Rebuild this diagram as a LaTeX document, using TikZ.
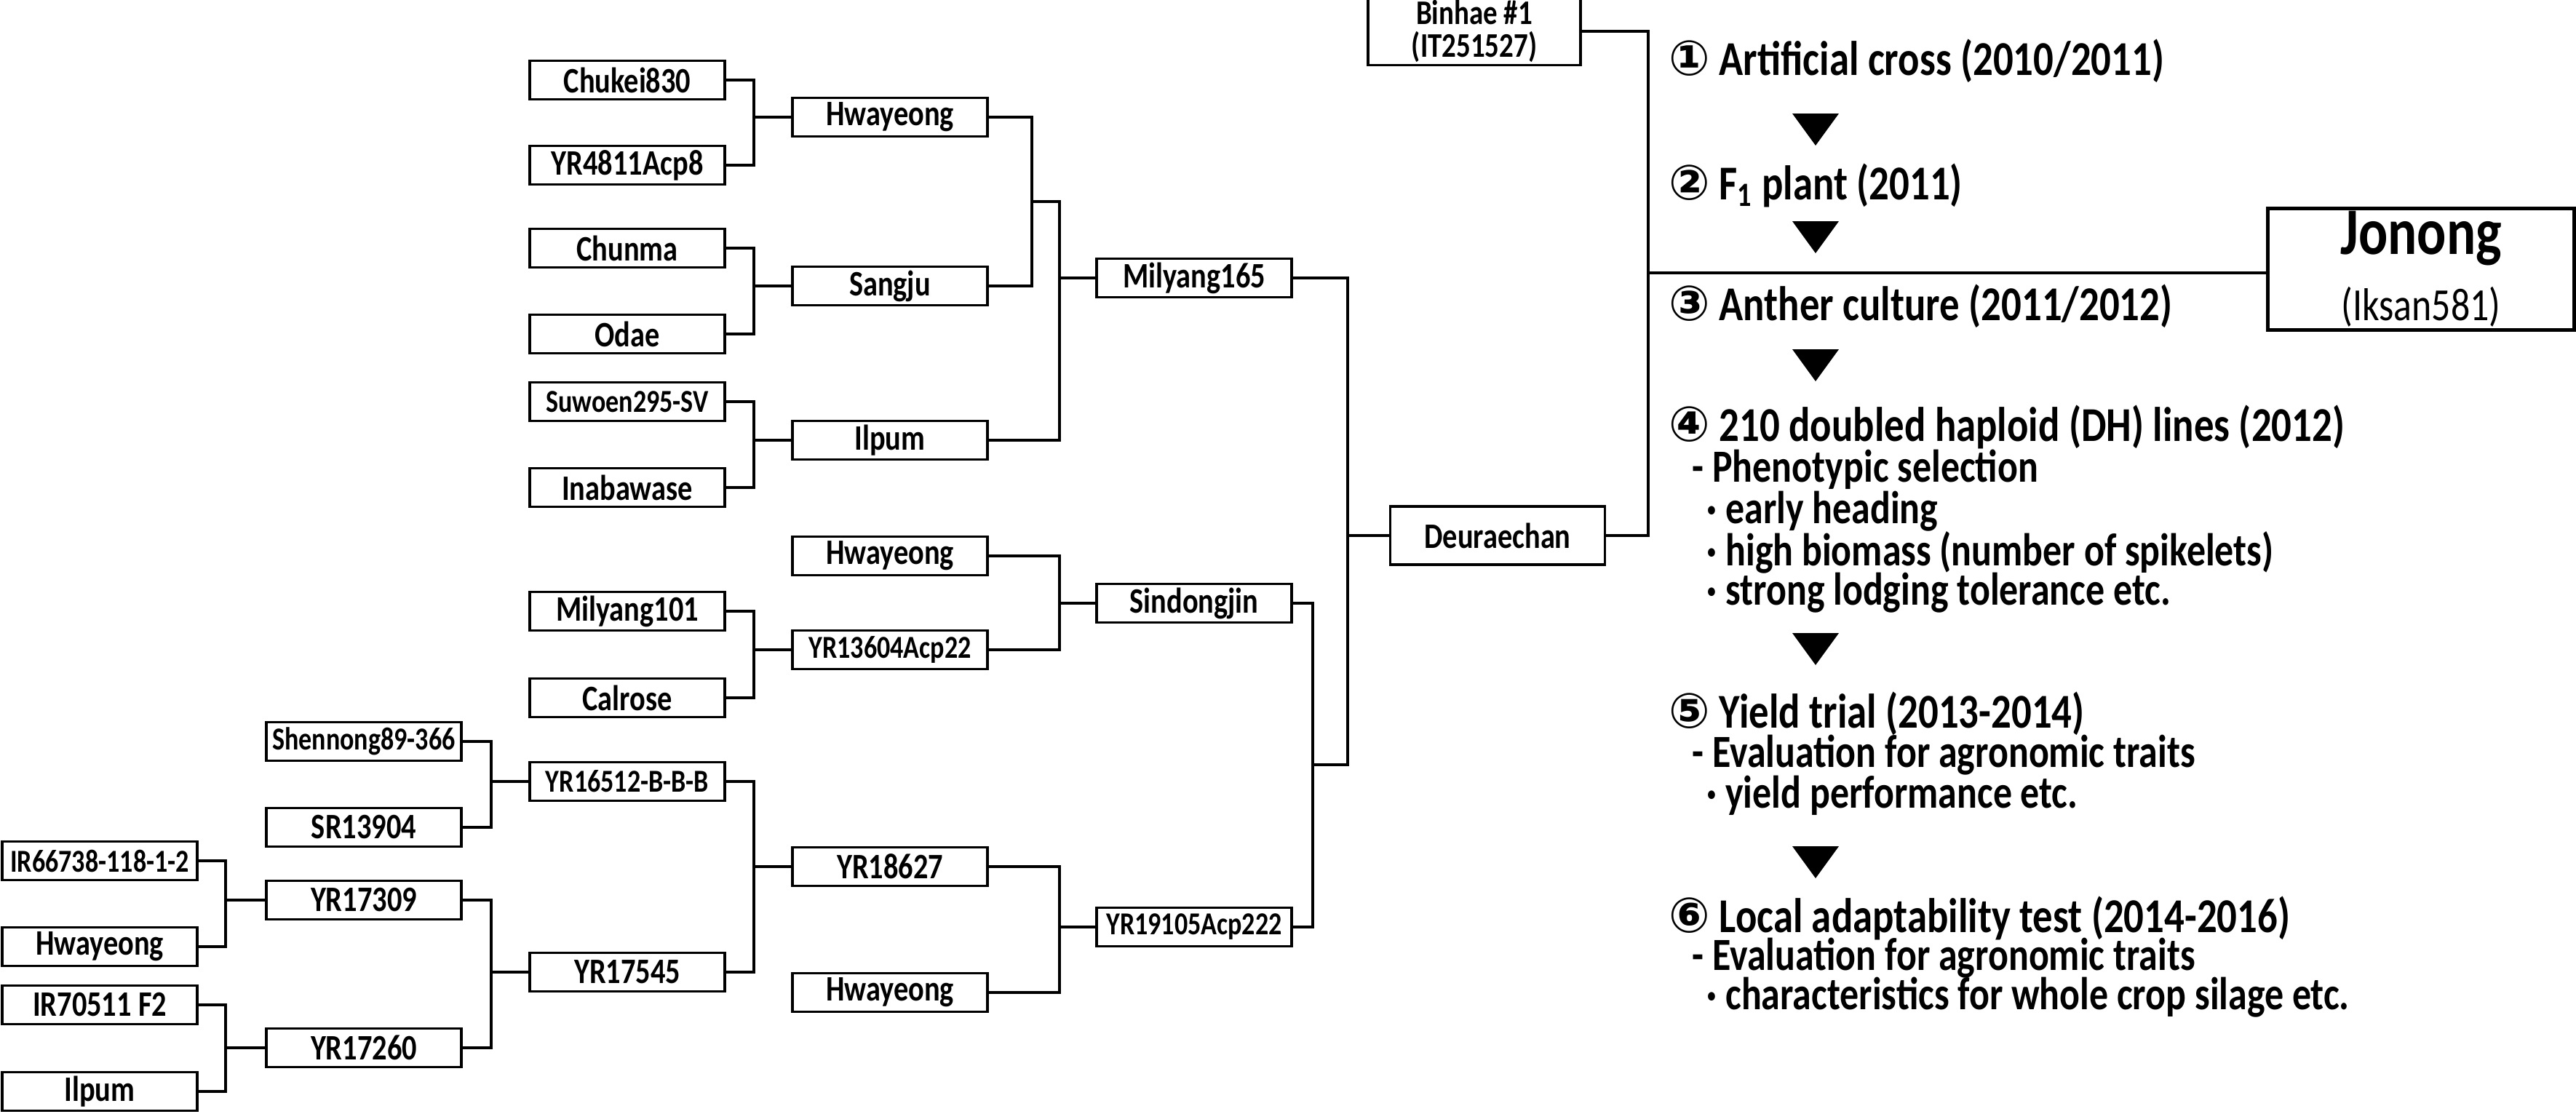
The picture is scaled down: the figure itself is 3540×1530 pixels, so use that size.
\documentclass[tikz,border=0pt]{standalone}
\usepackage{fontspec}
\setmainfont{Carlito}[FakeStretch=0.82]
\newfontfamily\symfont{DejaVu Sans}
\usetikzlibrary{positioning}

\begin{document}
\begin{tikzpicture}[x=0.01cm, y=-0.01cm, font=\bfseries]

    %
    % Styles for cultivars, links and stages
    %
    \tikzstyle{link} = [black, line width=1pt]
    \tikzstyle{cultivar} = [draw, line width=1pt, rectangle, inner sep=1pt,
                          minimum height=0.53cm, minimum width=2.68cm,
                          font={\fontsize{14}{16}\selectfont\bfseries}]
    \tikzstyle{stage} = [anchor=west, inner sep=0pt, font={\fontsize{19}{22}\selectfont\bfseries}]
    \tikzstyle{stageSub} = [stage, font={\fontsize{18}{22}\selectfont\bfseries}]
    \tikzstyle{downTip} = [fill=black]
    \newcommand{\circnum}[1]{{\symfont #1}}
    \newcommand{\cross}[4]{%
      \draw[link] (#1.east) -- (#1.east -| #3) -- (#2.east -| #3) -- (#2.east);
      \draw[link] (#4.west) -- (#4.west -| #3);}

    \useasboundingbox (0,0) rectangle (3540,1530);

    %
    % Junction columns
    %
    \coordinate (jA) at (310,0);
    \coordinate (jB) at (675,0);
    \coordinate (jC) at (1036,0);
    \coordinate (jD) at (1418,0);
    \coordinate (jE) at (1456,0);
    \coordinate (jF) at (1804,0);
    \coordinate (jG) at (1852,0);

    %
    % Position cultivars
    %
    \node[cultivar] (chukei) at (862,110) {Chukei830};
    \node[cultivar] (yr4811) at (862,227) {YR4811Acp8};
    \node[cultivar] (hwa1) at (1223,161) {Hwayeong};
    \node[cultivar] (chunma) at (862,341) {Chunma};
    \node[cultivar] (odae) at (862,459) {Odae};
    \node[cultivar] (sangju) at (1223,393) {Sangju};
    \node[cultivar] (suwoen) at (862,552) {\fontsize{12.5}{14}\selectfont Suwoen295-SV};
    \node[cultivar] (inaba) at (862,670) {Inabawase};
    \node[cultivar] (ilpum1) at (1223,605) {Ilpum};
    \node[cultivar] (mil165) at (1641,382) {Milyang165};
    \node[cultivar] (hwa2) at (1223,764) {Hwayeong};
    \node[cultivar] (mil101) at (862,840) {Milyang101};
    \node[cultivar] (calrose) at (862,959) {Calrose};
    \node[cultivar] (yr13604) at (1223,893) {\fontsize{12.5}{14}\selectfont YR13604Acp22};
    \node[cultivar] (sindong) at (1641,829) {Sindongjin};
    \node[cultivar] (shen) at (500,1019) {\fontsize{12.5}{14}\selectfont Shennong89-366};
    \node[cultivar] (sr) at (500,1137) {SR13904};
    \node[cultivar] (yr16512) at (862,1074) {\fontsize{12.5}{14}\selectfont YR16512-B-B-B};
    \node[cultivar] (ir66) at (137,1183) {\fontsize{12.5}{14}\selectfont IR66738-118-1-2};
    \node[cultivar] (hwa3) at (137,1301) {Hwayeong};
    \node[cultivar] (yr17309) at (500,1237) {YR17309};
    \node[cultivar] (ir70) at (137,1381) {IR70511 F2};
    \node[cultivar] (ilpum2) at (137,1500) {Ilpum};
    \node[cultivar] (yr17260) at (500,1440) {YR17260};
    \node[cultivar] (yr17545) at (862,1336) {YR17545};
    \node[cultivar] (yr18627) at (1223,1191) {YR18627};
    \node[cultivar] (hwa4) at (1223,1364) {Hwayeong};
    \node[cultivar] (yr19105) at (1641,1274) {\fontsize{12.5}{14}\selectfont YR19105Acp222};
    \node[cultivar, minimum width=2.95cm, minimum height=0.8cm] (deur) at (2058,736) {Deuraechan};
    \node[cultivar, minimum width=2.92cm, minimum height=0.82cm, align=center,
          font={\fontsize{13.5}{13}\selectfont\bfseries}] (binhae) at (2026,43) {Binhae \#1\\(IT251527)};
    \node[cultivar, line width=1.4pt, minimum width=4.2cm, minimum height=1.67cm, align=center,
          font={\fontsize{26}{28}\selectfont\bfseries}] (jonong) at (3327,370)
          {Jonong\\[-2pt]{\fontsize{18}{20}\selectfont\mdseries (Iksan581)}};

    %
    % Connect cultivars via crosses
    %
    \cross{chukei}{yr4811}{jC}{hwa1}
    \cross{chunma}{odae}{jC}{sangju}
    \cross{suwoen}{inaba}{jC}{ilpum1}
    \cross{mil101}{calrose}{jC}{yr13604}
    \cross{hwa2}{yr13604}{jE}{sindong}
    \cross{shen}{sr}{jB}{yr16512}
    \cross{ir66}{hwa3}{jA}{yr17309}
    \cross{ir70}{ilpum2}{jA}{yr17260}
    \cross{yr17309}{yr17260}{jB}{yr17545}
    \cross{yr16512}{yr17545}{jC}{yr18627}
    \cross{yr18627}{hwa4}{jE}{yr19105}
    \draw[link] (hwa1.east) -- (hwa1.east -| jD) -- (sangju.east -| jD) -- (sangju.east);
    \draw[link] (1418,277) -- (1456,277) -- (ilpum1.east -| jE) -- (ilpum1.east);
    \draw[link] (mil165.west) -- (mil165.west -| jE);
    \draw[link] (sindong.east) -- (sindong.east -| jF) -- (yr19105.east -| jF) -- (yr19105.east);
    \draw[link] (mil165.east) -- (mil165.east -| jG) -- (1852,1051) -- (1804,1051);
    \draw[link] (deur.west) -- (deur.west -| jG);
    \coordinate (jH) at (2265,375);
    \draw[link] (binhae.east) -- (binhae.east -| jH) -- (deur.east -| jH) -- (deur.east);
    \draw[link] (jH) -- (jonong.west |- jH);

    %
    % Breeding stages
    %
    \node[stage] (s1) at (2293,84) {\circnum{①} Artificial cross (2010/2011)};
    \node[stage] (s2) at (2293,255) {\circnum{②} F\textsubscript{1} plant (2011)};
    \node[stage] (s3) at (2293,421) {\circnum{③} Anther culture (2011/2012)};
    \node[stage] (s4) at (2293,587) {\circnum{④} 210 doubled haploid (DH) lines (2012)};
    \node[stageSub] (s4a) at (2325,645) {- Phenotypic selection};
    \node[stageSub] (s4b) at (2345,703) {· early heading};
    \node[stageSub] (s4c) at (2345,759) {· high biomass (number of spikelets)};
    \node[stageSub] (s4d) at (2345,815) {· strong lodging tolerance etc.};
    \node[stage] (s5) at (2293,981) {\circnum{⑤} Yield trial (2013-2014)};
    \node[stageSub] (s5a) at (2325,1038) {- Evaluation for agronomic traits};
    \node[stageSub] (s5b) at (2345,1093) {· yield performance etc.};
    \node[stage] (s6) at (2293,1262) {\circnum{⑥} Local adaptability test (2014-2016)};
    \node[stageSub] (s6a) at (2325,1317) {- Evaluation for agronomic traits};
    \node[stageSub] (s6b) at (2345,1371) {· characteristics for whole crop silage etc.};
    \foreach \y in {178, 326, 502, 892, 1185}
      \fill[downTip] (2463,\y-22) -- (2527,\y-22) -- (2495,\y+22) -- cycle;
\end{tikzpicture}
\end{document}
